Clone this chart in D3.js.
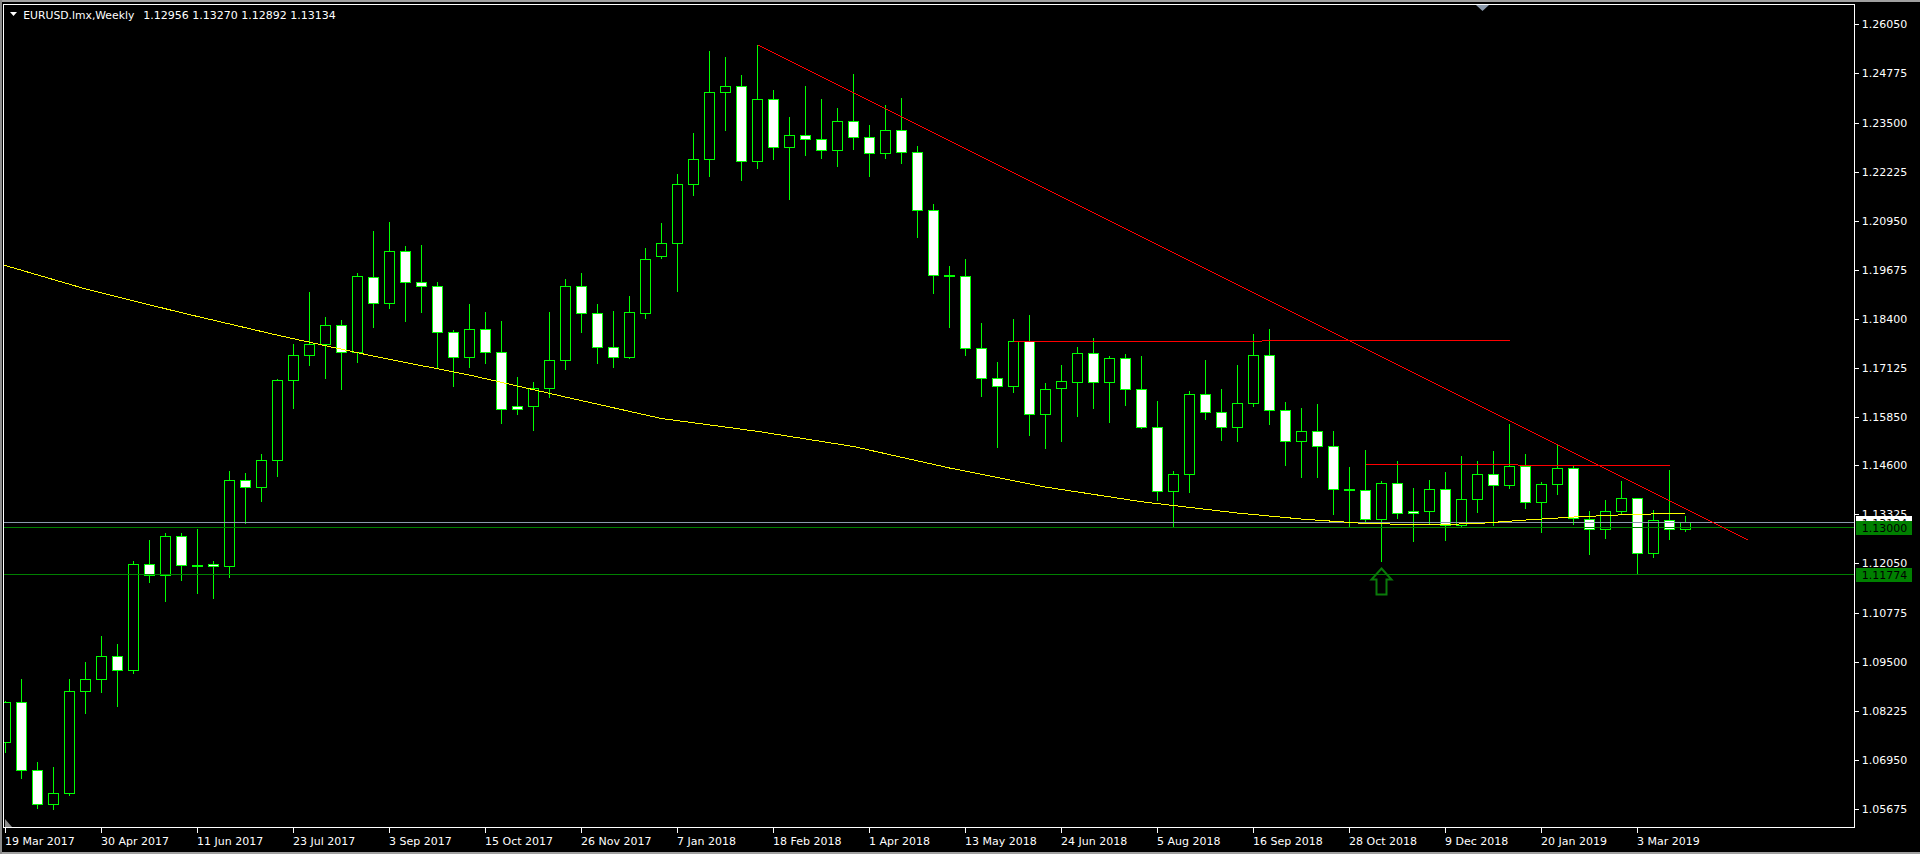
<!DOCTYPE html>
<html><head><meta charset="utf-8">
<script src="https://cdn.jsdelivr.net/npm/d3@7"></script>
<style>html,body{margin:0;padding:0;background:#000;overflow:hidden}</style>
</head><body>
<svg id="c" width="1920" height="854"></svg>
<script>
// ---------------- DATA ----------------
const opens  = [1.07405,1.08443,1.06678,1.05795,1.06080,1.08729,1.09041,1.09638,1.09274,1.12027,
  1.11741,1.12754,1.11995,1.12027,1.11975,1.14208,1.14026,1.14728,1.16805,1.17454,
  1.17740,1.18233,1.17532,1.19480,1.18805,1.20155,1.19350,1.19246,1.18052,1.17402,
  1.18129,1.17532,1.16130,1.16130,1.16597,1.17324,1.19246,1.18545,1.17662,1.17402,
  1.18545,1.20025,1.20363,1.21894,1.22544,1.24283,1.24439,1.22491,1.24102,1.22855,
  1.23167,1.23063,1.22777,1.23530,1.23115,1.22699,1.23297,1.22725,1.21219,1.19510,
  1.19506,1.17636,1.16857,1.16649,1.17818,1.15922,1.16597,1.16753,1.17506,1.16753,
  1.17376,1.16571,1.15584,1.13922,1.14364,1.16441,1.15974,1.15584,1.16208,1.17454,
  1.16026,1.15221,1.15481,1.15091,1.13960,1.13948,1.13213,1.14130,1.13403,1.13403,
  1.13974,1.13040,1.13715,1.14364,1.14078,1.14572,1.13637,1.14104,1.14520,1.13213,
  1.12936,1.13403,1.13741,1.12312,1.13169,1.12956];
const highs  = [1.08478,1.09049,1.06894,1.06764,1.09049,1.09491,1.10166,1.09958,1.12114,1.12659,
  1.12841,1.12841,1.12945,1.12114,1.14451,1.14399,1.14892,1.16830,1.17740,1.19090,
  1.18450,1.18372,1.19592,1.20683,1.20917,1.20285,1.20320,1.19350,1.18100,1.18787,
  1.18571,1.18346,1.16892,1.16753,1.18571,1.19437,1.19592,1.18779,1.18606,1.18995,
  1.20233,1.20891,1.22163,1.23227,1.25357,1.25201,1.24733,1.25521,1.24335,1.23634,
  1.24439,1.24102,1.23876,1.24759,1.23426,1.23946,1.24128,1.22881,1.21384,1.19774,
  1.19956,1.18294,1.17281,1.18398,1.18502,1.16736,1.17203,1.17679,1.17904,1.17428,
  1.17489,1.17437,1.16268,1.14459,1.16519,1.17333,1.16580,1.17203,1.17999,1.18138,
  1.16242,1.16086,1.16190,1.15489,1.14554,1.14996,1.14182,1.14701,1.14009,1.14217,
  1.14425,1.14840,1.14701,1.14970,1.15680,1.14892,1.14165,1.15126,1.14589,1.13412,
  1.13697,1.14199,1.13760,1.13438,1.14476,1.13270];
const lows   = [1.07162,1.06487,1.05708,1.05674,1.06037,1.08175,1.08720,1.08357,1.09214,1.11568,
  1.11075,1.11620,1.11283,1.11153,1.11707,1.13109,1.13680,1.14329,1.16095,1.17212,
  1.16874,1.16589,1.17290,1.18199,1.18675,1.18355,1.18588,1.17160,1.16667,1.17160,
  1.17264,1.15706,1.15940,1.15524,1.16364,1.17108,1.18069,1.17264,1.17160,1.17380,
  1.18432,1.19990,1.19134,1.21626,1.22119,1.23314,1.22015,1.22327,1.22561,1.21522,
  1.22665,1.22587,1.22379,1.22820,1.22119,1.22587,1.22457,1.20535,1.19081,1.18199,
  1.17471,1.16407,1.15082,1.16502,1.15394,1.15056,1.15238,1.15887,1.16095,1.15732,
  1.16173,1.15570,1.13706,1.12990,1.13914,1.15809,1.15264,1.15238,1.16147,1.15680,
  1.14615,1.14303,1.14303,1.13342,1.12996,1.13135,1.12122,1.13239,1.12641,1.13074,
  1.12667,1.13000,1.13394,1.13057,1.14018,1.13498,1.12875,1.13862,1.13083,1.12304,
  1.12719,1.13351,1.11774,1.12209,1.12693,1.12892];
const closes = [1.08443,1.06678,1.05795,1.06080,1.08729,1.09041,1.09638,1.09274,1.12027,1.11741,
  1.12754,1.12001,1.12018,1.11975,1.14208,1.14026,1.14728,1.16805,1.17454,1.17740,
  1.18233,1.17532,1.19506,1.18805,1.20155,1.19350,1.19246,1.18052,1.17402,1.18129,
  1.17532,1.16052,1.16052,1.16597,1.17324,1.19246,1.18545,1.17662,1.17402,1.18571,
  1.19947,1.20363,1.21894,1.22544,1.24283,1.24439,1.22491,1.24102,1.22855,1.23167,
  1.23063,1.22777,1.23530,1.23115,1.22699,1.23297,1.22725,1.21219,1.19531,1.19531,
  1.17636,1.16857,1.16649,1.17818,1.15922,1.16571,1.16779,1.17506,1.16753,1.17376,
  1.16571,1.15584,1.13922,1.14364,1.16441,1.15974,1.15584,1.16208,1.17454,1.16026,
  1.15221,1.15481,1.15091,1.13974,1.13974,1.13213,1.14130,1.13351,1.13351,1.13974,
  1.13040,1.13715,1.14364,1.14078,1.14572,1.13637,1.14104,1.14520,1.13221,1.12936,
  1.13403,1.13741,1.12312,1.13169,1.12936,1.13134];

// Moving average (yellow) read at bar indices
const maIdx = [-1,5,11,17,23,29,35,41,47,53,59,65,71,77,81,85,89,92,95,98,101,105];
const maVal = [1.19906,1.19179,1.18561,1.17977,1.17432,1.16943,1.16372,1.15814,1.15481,1.15087,
  1.14529,1.14035,1.13653,1.13360,1.13204,1.13087,1.13056,1.13087,1.13178,1.13256,1.13313,1.13360];

// Red objects: trend line and horizontal segments [startIdx, endIdx, price]
const trendStart = [47, 1.25521];
const trendEnd   = [108.9, 1.12662];
const redHStart = [63, 78.5, 85, 94.5];
const redHEnd   = [78.5, 94, 94.5, 104];
const redHPrice = [1.17818, 1.17844, 1.14624, 1.14598];

// Horizontal lines across the chart
const hLineValues = [1.13134, 1.13000, 1.11774];
// Arrow object
const arrowIdx = 86, arrowPrice = 1.1192;

// Axis ticks
const priceTicks = [1.26050,1.24775,1.23500,1.22225,1.20950,1.19675,1.18400,1.17125,1.15850,
  1.14600,1.13325,1.12050,1.10775,1.09500,1.08225,1.06950,1.05675];
const dateTickIdx = [0,6,12,18,24,30,36,42,48,54,60,66,72,78,84,90,96,102];
const dateTickLabels = ["19 Mar 2017","30 Apr 2017","11 Jun 2017","23 Jul 2017","3 Sep 2017",
  "15 Oct 2017","26 Nov 2017","7 Jan 2018","18 Feb 2018","1 Apr 2018","13 May 2018",
  "24 Jun 2018","5 Aug 2018","16 Sep 2018","28 Oct 2018","9 Dec 2018","20 Jan 2019","3 Mar 2019"];

const symbol = "EURUSD.lmx,Weekly";
const headerOHLC = [1.12956, 1.13270, 1.12892, 1.13134];

// ---------------- STYLE ----------------
const FONT = "'DejaVu Sans', Verdana, sans-serif";
const CANDLE = "#00ff00";
const hLineColors = ["#8b99ab", "#008000", "#008000"];
const hLabelFill = ["#ffffff", "#008000", "#008000"];

// ---------------- DRAW ----------------
const svg = d3.select("#c");
svg.append("rect").attr("width",1920).attr("height",854).attr("fill","#000");
svg.append("rect").attr("x",0).attr("y",0).attr("width",1920).attr("height",2).attr("fill","#a0a0a0");
svg.append("rect").attr("x",0).attr("y",852).attr("width",1920).attr("height",2).attr("fill","#a0a0a0");
svg.append("rect").attr("x",0).attr("y",0).attr("width",2).attr("height",854).attr("fill","#8a8a8a");

const plot = {l:3.5, t:4.5, r:1854.5, b:827.5};
const x = d3.scaleLinear().domain([0,105]).range([5.5,1685.5]);
const y = d3.scaleLinear().domain([1.26050,1.05675]).range([24.3,809]);
const ry = v => Math.round(y(v)) + 0.5;

svg.append("clipPath").attr("id","clip").append("rect")
  .attr("x",plot.l+0.5).attr("y",plot.t+0.5).attr("width",plot.r-plot.l-1).attr("height",plot.b-plot.t-1);

const g = svg.append("g").attr("clip-path","url(#clip)");

// candles
const bars = d3.range(opens.length).map(i => ({i, o:opens[i], h:highs[i], l:lows[i], c:closes[i]}));
const cg = g.append("g");
cg.selectAll("line.wick").data(bars).join("line").attr("class","wick")
  .attr("x1",d=>x(d.i)).attr("x2",d=>x(d.i))
  .attr("y1",d=>Math.round(y(d.h))).attr("y2",d=>Math.round(y(d.l))+1)
  .attr("stroke",CANDLE).attr("stroke-width",1).attr("shape-rendering","crispEdges");
cg.selectAll("rect.body").data(bars).join("rect").attr("class","body")
  .attr("x",d=>x(d.i)-5).attr("width",10)
  .attr("y",d=>ry(Math.max(d.o,d.c)))
  .attr("height",d=>Math.max(ry(Math.min(d.o,d.c))-ry(Math.max(d.o,d.c)),1))
  .attr("fill",d=>d.c>=d.o?"#000":"#fff")
  .attr("stroke",CANDLE).attr("stroke-width",1).attr("shape-rendering","crispEdges");

// horizontal full-width lines
g.selectAll("line.hl").data(hLineValues).join("line").attr("class","hl")
  .attr("x1",plot.l).attr("x2",plot.r).attr("y1",d=>ry(d)).attr("y2",d=>ry(d))
  .attr("stroke",(d,i)=>hLineColors[i]).attr("stroke-width",1).attr("shape-rendering","crispEdges");

// moving average
const ma = maIdx.map((d,k)=>[d,maVal[k]]);
g.append("path").datum(ma)
  .attr("d",d3.line().x(d=>x(d[0])).y(d=>y(d[1])))
  .attr("fill","none").attr("stroke","#ffff00").attr("stroke-width",1).attr("shape-rendering","crispEdges");

// red trend line
g.append("line")
  .attr("x1",x(trendStart[0])).attr("y1",y(trendStart[1]))
  .attr("x2",x(trendEnd[0])).attr("y2",y(trendEnd[1]))
  .attr("stroke","#ff0000").attr("stroke-width",1).attr("shape-rendering","crispEdges");
// red horizontal segments
g.selectAll("line.rh").data(redHPrice).join("line").attr("class","rh")
  .attr("x1",(d,k)=>x(redHStart[k])).attr("x2",(d,k)=>x(redHEnd[k]))
  .attr("y1",d=>ry(d)).attr("y2",d=>ry(d))
  .attr("stroke","#ff0000").attr("stroke-width",1).attr("shape-rendering","crispEdges");

// arrow
const ax = x(arrowIdx), ay = y(arrowPrice);
g.append("path")
  .attr("d",`M${ax},${ay} L${ax+10},${ay+11} L${ax+5},${ay+11} L${ax+5},${ay+26} L${ax-5},${ay+26} L${ax-5},${ay+11} L${ax-10},${ay+11} Z`)
  .attr("fill","none").attr("stroke","#0a7a0a").attr("stroke-width",2).attr("stroke-linejoin","miter");

// frame
svg.append("rect").attr("x",plot.l).attr("y",plot.t).attr("width",plot.r-plot.l).attr("height",plot.b-plot.t)
  .attr("fill","none").attr("stroke","#fff").attr("stroke-width",1).attr("shape-rendering","crispEdges");

// shift marker (top) and scroll marker (bottom-left)
svg.append("path").attr("d","M1476,5 L1489,5 L1482.5,11 Z").attr("fill","#8a98aa");
svg.append("path").attr("d","M5,819 L5,827 L12,827 Z").attr("fill","#8a8a8a");

// price axis
const pa = svg.append("g");
pa.selectAll("line").data(priceTicks).join("line")
  .attr("x1",plot.r).attr("x2",plot.r+4).attr("y1",d=>ry(d)).attr("y2",d=>ry(d))
  .attr("stroke","#fff").attr("shape-rendering","crispEdges");
pa.selectAll("text").data(priceTicks).join("text")
  .attr("x",1861.7).attr("y",d=>y(d)+4)
  .attr("fill","#fff").attr("font-family",FONT).attr("font-size",11)
  .text(d=>d3.format(".5f")(d));

// line price labels
const lbl = svg.append("g");
hLineValues.forEach((v,k)=>{
  const yy = Math.round(y(v));
  lbl.append("rect").attr("x",1856).attr("y",yy-6).attr("width",56).attr("height",14).attr("fill",hLabelFill[k]);
  lbl.append("text").attr("x",1861.7).attr("y",yy+5).attr("fill","#000")
    .attr("font-family",FONT).attr("font-size",11).text(d3.format(".5f")(v));
});

// date axis
const da = svg.append("g");
da.selectAll("line").data(dateTickIdx).join("line")
  .attr("x1",d=>x(d)-0.5).attr("x2",d=>x(d)-0.5).attr("y1",plot.b).attr("y2",plot.b+5)
  .attr("stroke","#fff").attr("shape-rendering","crispEdges");
da.selectAll("text").data(dateTickIdx).join("text")
  .attr("x",d=>x(d)-0.5).attr("y",845)
  .attr("fill","#fff").attr("font-family",FONT).attr("font-size",11)
  .text((d,k)=>dateTickLabels[k]);

// header
svg.append("path").attr("d","M10,12 L17,12 L13.5,16 Z").attr("fill","#fff");
svg.append("text").attr("x",23.3).attr("y",19).attr("fill","#fff").attr("font-family",FONT).attr("font-size",11)
  .attr("textLength",111).attr("lengthAdjust","spacingAndGlyphs").text(symbol);
svg.append("text").attr("x",143.3).attr("y",19).attr("fill","#fff").attr("font-family",FONT).attr("font-size",11)
  .text(headerOHLC.map(d3.format(".5f")).join(" "));
</script>
</body></html>
